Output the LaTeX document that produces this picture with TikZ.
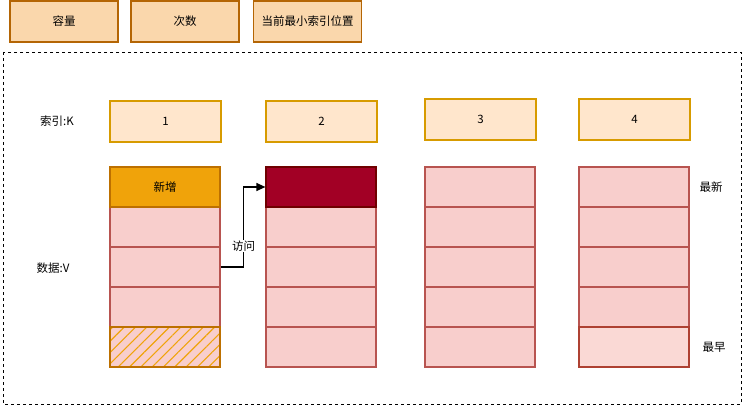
\documentclass[tikz,border=0pt]{standalone}
\usepackage{fontspec}
\setmainfont{Noto Sans CJK SC}
\usetikzlibrary{positioning,arrows.meta,patterns.meta}

\definecolor{hdrfill}{HTML}{FAD7AC}
\definecolor{hdrline}{HTML}{B46504}
\definecolor{keyfill}{HTML}{FFE6CC}
\definecolor{keyline}{HTML}{D79B00}
\definecolor{cellfill}{HTML}{F8CECC}
\definecolor{cellline}{HTML}{B85450}
\definecolor{newfill}{HTML}{F0A30A}
\definecolor{newline}{HTML}{BD7000}
\definecolor{hotfill}{HTML}{A20025}
\definecolor{hotline}{HTML}{6F0000}
\definecolor{oldfill}{HTML}{FAD9D5}
\definecolor{oldline}{HTML}{AE4132}

\begin{document}
\begin{tikzpicture}[x=1pt,y=-1pt,
    every node/.style={font=\fontsize{11.5}{14}\selectfont},
    hdr/.style={draw=hdrline,fill=hdrfill,line width=1.2pt,minimum width=108pt,minimum height=41pt},
    key/.style={draw=keyline,fill=keyfill,line width=1.2pt,minimum width=111pt,minimum height=41pt},
    cell/.style={draw=cellline,fill=cellfill,line width=1.2pt,minimum width=110pt,minimum height=40pt}]
  \useasboundingbox (0,0) rectangle (744,406);

  % header fields
  \node[hdr] (cap) at (64,21.5)    {容量};
  \node[hdr] (cnt) at (185,21.5)   {次数};
  \node[hdr] (minidx) at (307.5,21.5) {当前最小索引位置};

  \draw[dash pattern=on 3pt off 3pt,line width=0.8pt] (3,52) rectangle (741,404);

  \node (klabel) at (57,121) {索引:K};
  \node (vlabel) at (53,268) {数据:V};

  % index boxes
  \node[key] (k1) at (165.5,121.5) {1};
  \node[key] (k2) at (321.5,121.5) {2};
  \node[key] (k3) at (480.5,119.5) {3};
  \node[key] (k4) at (634.5,119.5) {4};

  % data cells
  \foreach \col/\x in {1/165,2/321,3/480,4/634}
    \foreach \row in {1,...,5}
      \node[cell] (c\col r\row) at (\x,147+\row*40) {};

  \node[cell,fill=newfill,draw=newline] (c1r1) at (165,187) {新增};
  \node[cell,fill=white,draw=newline,
        pattern={Lines[angle=45,distance=8pt,line width=1.1pt]},pattern color=newfill] (c1r5) at (165,347) {};
  \node[cell,fill=hotfill,draw=hotline] (c2r1) at (321,187) {};
  \node[cell,fill=oldfill,draw=oldline] (c4r5) at (634,347) {};

  \node (newest) at (711,187) {最新};
  \node (oldest) at (714,347) {最早};

  \draw[line width=1.2pt,-{Triangle[length=9pt,width=8pt]}]
    (c1r3.east) -- ++(23,0) |- (c2r1.west)
    node[pos=0.13,fill=white,inner sep=1pt] (visit) {访问};
\end{tikzpicture}
\end{document}
